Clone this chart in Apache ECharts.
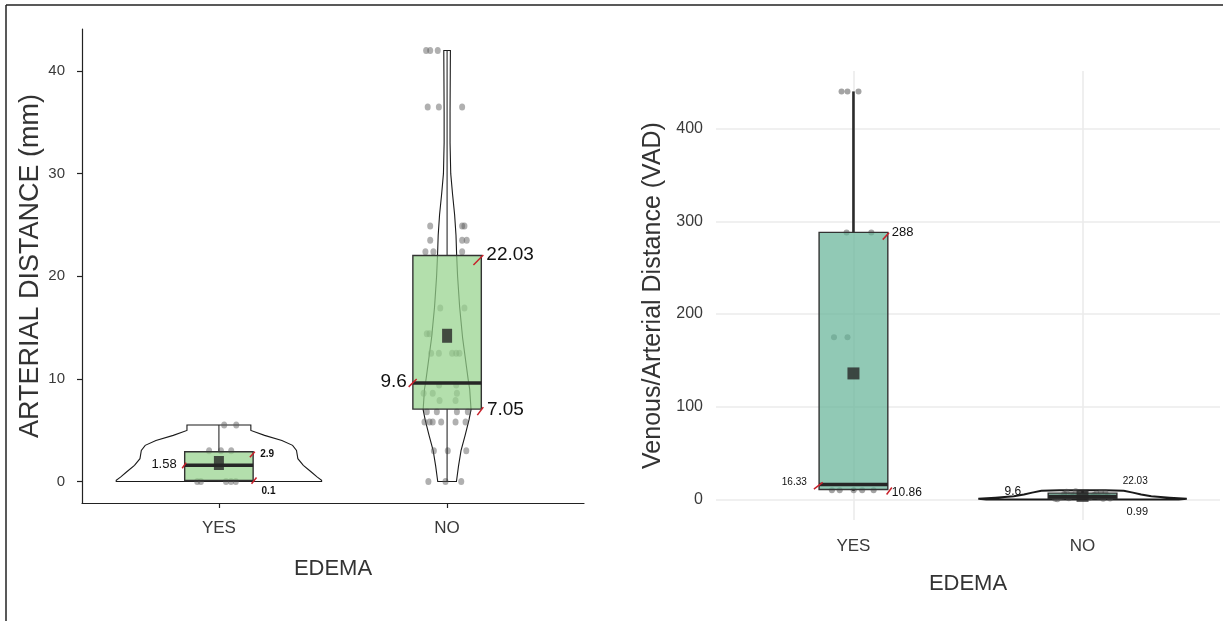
<!DOCTYPE html>
<html>
<head>
<meta charset="utf-8">
<script src="https://cdn.jsdelivr.net/npm/echarts@6.0.0/dist/echarts.min.js"></script>
<style>
html, body { margin: 0; padding: 0; background: #fff; }
#chart { width: 1223px; height: 621px; }
</style>
</head>
<body>
<div id="chart"></div>
<script>
var groups = ['YES', 'NO'];
var leftTicks = [0, 10, 20, 30, 40];
var rightTicks = [0, 100, 200, 300, 400];

// left panel: arterial distance (mm)
var adLow = [0, 0];
var adQ1 = [0.1, 7.05];
var adMed = [1.58, 9.6];
var adQ3 = [2.9, 22.03];
var adHigh = [5.5, 42];
var adMean = [1.8, 14.2];

// violin outline: value and half width (category units)
var adYesViolinY = [0, 0.12, 0.44, 0.92, 1.57, 2.22, 3.03, 3.52, 4.0, 4.49, 4.97, 5.5];
var adYesViolinW = [0.45, 0.45, 0.43, 0.405, 0.37, 0.346, 0.34, 0.323, 0.276, 0.2, 0.14, 0.14];
var adNoViolinY = [0, 1.5, 3, 4.5, 6, 7, 9, 10, 12.5, 14, 17, 20, 22, 24, 26, 28, 30, 33, 36, 40, 42];
var adNoViolinW = [0.041, 0.05, 0.061, 0.079, 0.096, 0.105, 0.099, 0.092, 0.077, 0.068, 0.055, 0.046, 0.042, 0.039, 0.033, 0.024, 0.016, 0.013, 0.013, 0.014, 0.0145];

// jittered points: value and horizontal jitter
var adYesPtsY = [5.5, 5.5, 3, 3, 3, 0, 0, 0, 0, 0];
var adYesPtsJ = [0.023, 0.076, -0.043, 0.009, 0.054, -0.095, -0.079, 0.031, 0.053, 0.074];
var adNoPtsY = [42, 42, 42, 36.5, 36.5, 36.5, 24.9, 24.9, 24.9, 23.5, 23.5, 23.5, 22.4, 22.4, 22.4,
  16.9, 16.9, 14.4, 14.4, 12.5, 12.5, 12.5, 12.5, 12.5, 9.4, 9.4, 8.6, 8.6, 8.6, 7.9, 7.9,
  6.8, 6.8, 6.8, 6.8, 5.8, 5.8, 5.8, 5.8, 5.8, 5.8, 3, 3, 3, 0, 0, 0];
var adNoPtsJ = [-0.092, -0.074, -0.041, -0.085, -0.036, 0.066, -0.074, 0.066, 0.076, -0.074, 0.066, 0.086, -0.095, -0.060, 0.066,
  -0.030, 0.076, -0.089, -0.077, -0.070, -0.036, 0.022, 0.040, 0.054, -0.035, 0.040, -0.103, -0.063, 0.043, -0.033, 0.037,
  -0.089, -0.045, 0.043, 0.091, -0.099, -0.077, -0.063, -0.026, 0.037, 0.081, -0.058, 0.003, 0.084, -0.082, -0.007, 0.062];

var adAnnGroup = [1, 1, 1, 2, 2, 2];
var adAnnValue = [1.58, 2.9, 0.1, 22.03, 9.6, 7.05];
var adAnnText = ['1.58', '2.9', '0.1', '22.03', '9.6', '7.05'];

// right panel: venous/arterial distance
var vadLow = [9.5, 0];
var vadQ1 = [10.86, 0.99];
var vadMed = [16.33, 3.2];
var vadQ3 = [288, 7];
var vadHigh = [440, 10];
var vadMean = [136, 4];

var vadNoViolinY = [0, 1, 2, 3.5, 5.4, 7.5, 9.4, 10];
var vadNoViolinW = [0.42, 0.455, 0.38, 0.3, 0.256, 0.22, 0.18, 0.1];

var vadYesPtsY = [440, 440, 440, 288, 288, 175, 175, 10, 10, 10, 10, 10];
var vadYesPtsJ = [-0.052, -0.026, 0.022, -0.030, 0.078, -0.085, -0.026, -0.094, -0.060, 0.001, 0.038, 0.088];
var vadNoPtsY = [0.5, 1, 1.5, 2, 2.5, 3, 3.5, 4, 4.5, 5, 6, 7, 8, 9, 1.2, 2.2, 3.3, 5.5, 7.5, 0.8, 6.5, 8.5];
var vadNoPtsJ = [-0.11, 0.09, -0.06, 0.03, -0.09, 0.07, -0.02, 0.11, -0.04, 0.05, -0.08, 0.01, 0.08, -0.03, 0.12, -0.1, 0.04, -0.05, 0.1, -0.12, 0.06, -0.07];

var vadAnnGroup = [1, 1, 1, 2, 2, 2];
var vadAnnValue = [288, 16.33, 10.86, 3.2, 7, 0.99];
var vadAnnText = ['288', '16.33', '10.86', '9.6', '22.03', '0.99'];

// label placement (pixels from the box edge)
var adPlace = [
  { side: -1, seg: [-2.5, 3, 1.5, -2.6], dx: -8, dy: -1, align: 'right', size: 13 },
  { side: 1, seg: [-3.3, 5.5, 1.7, 0], dx: 7, dy: 3, align: 'left', size: 10, bold: true },
  { side: 1, seg: [-1.6, 3.4, 3.4, -2.9], dx: 8.4, dy: 10.4, align: 'left', size: 10, bold: true },
  { side: 1, seg: [-7.9, 9.5, 2, -0.5], dx: 5, dy: -1, align: 'left', size: 19 },
  { side: -1, seg: [-4.2, 3.9, 3.8, -4], dx: -6, dy: -1.2, align: 'right', size: 19 },
  { side: 1, seg: [-4, 6, 2, -2], dx: 5.6, dy: 1, align: 'left', size: 19 }
];
var vadPlace = [
  { side: 1, seg: [-5.1, 7.2, 1.2, 0.4], dx: 4, dy: 0, align: 'left', size: 13 },
  { side: -1, seg: [-5.2, 4.7, 3.6, -2], dx: -12.3, dy: -2, align: 'right', size: 10 },
  { side: 1, seg: [-1.2, 5, 4, -2], dx: 4, dy: 3.5, align: 'left', size: 12 },
  { side: -1, seg: null, dx: -27, dy: -5, align: 'right', size: 12 },
  { side: 1, seg: null, dx: 5.8, dy: -12, align: 'left', size: 10 },
  { side: 1, seg: null, dx: 9.7, dy: 13.4, align: 'left', size: 11 }
];

var BOX_HALF = 0.15;
var FONT = '"Liberation Sans", Arial, sans-serif';

function pts(ys, js, g) {
  return ys.map(function (y, i) { return [g + js[i], y]; });
}

function violinItem(profiles, lw) {
  return function (params, api) {
    var p = profiles[params.dataIndex];
    var g = api.value(0);
    var poly = [];
    var i;
    for (i = 0; i < p[0].length; i++) poly.push(api.coord([g - p[1][i], p[0][i]]));
    for (i = p[0].length - 1; i >= 0; i--) poly.push(api.coord([g + p[1][i], p[0][i]]));
    return {
      type: 'polygon',
      shape: { points: poly },
      style: { fill: '#fff', stroke: '#1a1a1a', lineWidth: lw }
    };
  };
}

function boxItem(low, q1, med, q3, high, fill, whiskerW) {
  return function (params, api) {
    var i = params.dataIndex;
    var g = api.value(0);
    var tl = api.coord([g - BOX_HALF, q3[i]]);
    var br = api.coord([g + BOX_HALF, q1[i]]);
    var cx = api.coord([g, 0])[0];
    var yHi = api.coord([g, high[i]])[1];
    var yLo = api.coord([g, low[i]])[1];
    var yMed = api.coord([g, med[i]])[1];
    return {
      type: 'group',
      children: [
        { type: 'line', shape: { x1: cx, y1: tl[1], x2: cx, y2: yHi }, style: { stroke: '#2b2b2b', lineWidth: whiskerW } },
        { type: 'line', shape: { x1: cx, y1: br[1], x2: cx, y2: yLo }, style: { stroke: '#2b2b2b', lineWidth: whiskerW } },
        { type: 'rect', shape: { x: tl[0], y: tl[1], width: br[0] - tl[0], height: br[1] - tl[1] },
          style: { fill: fill, stroke: '#333', lineWidth: 1.4 } },
        { type: 'line', shape: { x1: tl[0], y1: yMed, x2: br[0], y2: yMed }, style: { stroke: '#262626', lineWidth: 3.5 } }
      ]
    };
  };
}

function annItem(place, texts) {
  return function (params, api) {
    var i = params.dataIndex;
    var pl = place[i];
    var a = api.coord([api.value(0) + pl.side * BOX_HALF, api.value(1)]);
    var children = [];
    if (pl.seg) {
      children.push({ type: 'line',
        shape: { x1: a[0] + pl.seg[0], y1: a[1] + pl.seg[1], x2: a[0] + pl.seg[2], y2: a[1] + pl.seg[3] },
        style: { stroke: '#c8202a', lineWidth: 1.5 } });
    }
    children.push({ type: 'text', x: a[0] + pl.dx, y: a[1] + pl.dy,
      style: { text: texts[i], fill: '#111', fontSize: pl.size, fontFamily: FONT,
        fontWeight: pl.bold ? 'bold' : 'normal', align: pl.align, verticalAlign: 'middle' } });
    return { type: 'group', children: children };
  };
}

function groupData(vals) {
  return groups.map(function (name, i) { return [i + 1, vals ? vals[i] : 0]; });
}

function xAxisCfg(grid, classic) {
  return {
    gridIndex: grid, type: 'value', min: 0.4, max: 2.6,
    name: 'EDEMA', nameLocation: 'middle', nameGap: classic ? 55 : 53,
    nameTextStyle: { fontSize: 22, color: '#333', fontFamily: FONT },
    axisLine: { show: classic, onZero: false, lineStyle: { color: '#222', width: 1.2 } },
    axisTick: { show: classic, customValues: [1, 2], length: 5, lineStyle: { color: '#222', width: 1.2 } },
    axisLabel: { customValues: [1, 2], formatter: function (v) { return groups[Math.round(v) - 1]; },
      fontSize: 17, color: '#3a3a3a', margin: classic ? 17 : 18, fontFamily: FONT },
    splitLine: { show: !classic, lineStyle: { color: '#ebebeb', width: 1.6 } }
  };
}

var option = {
  animation: false,
  backgroundColor: '#fff',
  graphic: [
    { type: 'line', shape: { x1: 6, y1: 5, x2: 1223, y2: 5 }, style: { stroke: '#222', lineWidth: 1.5 } },
    { type: 'line', shape: { x1: 6, y1: 5, x2: 6, y2: 621 }, style: { stroke: '#222', lineWidth: 1.5 } }
  ],
  grid: [
    { left: 82, top: 29, width: 502, height: 474 },
    { left: 716, top: 71, width: 504, height: 449 }
  ],
  xAxis: [xAxisCfg(0, true), xAxisCfg(1, false)],
  yAxis: [
    {
      gridIndex: 0, type: 'value', min: -2.1, max: 44.1,
      name: 'ARTERIAL DISTANCE (mm)', nameLocation: 'middle', nameGap: 37,
      nameTextStyle: { fontSize: 27, color: '#333', fontFamily: FONT },
      axisLine: { show: true, onZero: false, lineStyle: { color: '#222', width: 1.2 } },
      axisTick: { show: true, customValues: leftTicks, length: 5, lineStyle: { color: '#222', width: 1.2 } },
      axisLabel: { customValues: leftTicks, fontSize: 15, color: '#3a3a3a', margin: 17, fontFamily: FONT },
      splitLine: { show: false }
    },
    {
      gridIndex: 1, type: 'value', min: -22, max: 462,
      name: 'Venous/Arterial Distance (VAD)', nameLocation: 'middle', nameGap: 50,
      nameTextStyle: { fontSize: 25, color: '#333', fontFamily: FONT },
      axisLine: { show: false },
      axisTick: { show: false, customValues: rightTicks },
      axisLabel: { customValues: rightTicks, fontSize: 16, color: '#3a3a3a', margin: 13, fontFamily: FONT },
      splitLine: { show: true, lineStyle: { color: '#ebebeb', width: 1.6 } }
    }
  ],
  series: [
    // left panel
    { type: 'custom', xAxisIndex: 0, yAxisIndex: 0, z: 1, silent: true,
      renderItem: violinItem([[adYesViolinY, adYesViolinW], [adNoViolinY, adNoViolinW]], 1.1),
      data: groupData() },
    { type: 'scatter', xAxisIndex: 0, yAxisIndex: 0, z: 2, symbolSize: [6, 7],
      itemStyle: { color: 'rgba(90,90,90,0.6)' },
      data: pts(adYesPtsY, adYesPtsJ, 1).concat(pts(adNoPtsY, adNoPtsJ, 2)) },
    { type: 'custom', xAxisIndex: 0, yAxisIndex: 0, z: 3, silent: true,
      renderItem: boxItem(adLow, adQ1, adMed, adQ3, adHigh, 'rgba(150,210,140,0.72)', 1.1),
      data: groupData() },
    { type: 'scatter', xAxisIndex: 0, yAxisIndex: 0, z: 4, symbol: 'rect', symbolSize: [10, 14],
      itemStyle: { color: '#262626' }, data: groupData(adMean) },
    { type: 'custom', xAxisIndex: 0, yAxisIndex: 0, z: 5, silent: true,
      renderItem: annItem(adPlace, adAnnText),
      data: adAnnGroup.map(function (g, i) { return [g, adAnnValue[i]]; }) },

    // right panel
    { type: 'custom', xAxisIndex: 1, yAxisIndex: 1, z: 1, silent: true,
      renderItem: violinItem([[vadNoViolinY, vadNoViolinW]], 2),
      data: [[2, 0]] },
    { type: 'scatter', xAxisIndex: 1, yAxisIndex: 1, z: 2, symbolSize: 6,
      itemStyle: { color: 'rgba(80,80,80,0.65)' },
      data: pts(vadYesPtsY, vadYesPtsJ, 1).concat(pts(vadNoPtsY, vadNoPtsJ, 2)) },
    { type: 'custom', xAxisIndex: 1, yAxisIndex: 1, z: 3, silent: true,
      renderItem: boxItem(vadLow, vadQ1, vadMed, vadQ3, vadHigh, 'rgba(102,180,152,0.72)', 2.6),
      data: groupData() },
    { type: 'scatter', xAxisIndex: 1, yAxisIndex: 1, z: 4, symbol: 'rect', symbolSize: 12,
      itemStyle: { color: '#262626' }, data: groupData(vadMean) },
    { type: 'custom', xAxisIndex: 1, yAxisIndex: 1, z: 5, silent: true,
      renderItem: annItem(vadPlace, vadAnnText),
      data: vadAnnGroup.map(function (g, i) { return [g, vadAnnValue[i]]; }) }
  ]
};

var chart = echarts.init(document.getElementById('chart'));
chart.setOption(option);
</script>
</body>
</html>
